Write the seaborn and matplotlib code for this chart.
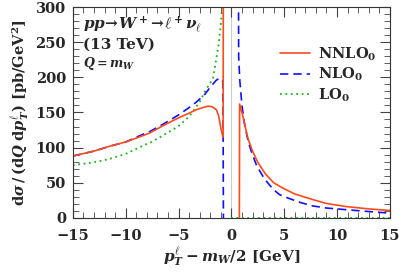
import numpy as np
import pandas as pd
import matplotlib
matplotlib.use("Agg")
import matplotlib.pyplot as plt
from matplotlib.ticker import MultipleLocator
from matplotlib.lines import Line2D
import seaborn as sns

# NNLO_0, left branch (runs off the top at the spike)
nnlo_l_x = [-15, -13, -11.5, -10, -8.2, -7.7, -6.5, -5.05, -4, -3.3, -2.7, -2.2, -1.8, -1.42, -1.2, -1.0, -0.85, -0.78, -0.76]
nnlo_l_y = [88, 95, 102, 108, 118, 121, 131, 142, 149, 154, 157, 159, 158, 154, 145, 128, 118, 115, 400]
# NNLO_0, right branch (comes up from below the axis)
nnlo_r_x = [0.74, 0.78, 1.0, 1.57, 2.0, 2.5, 3.2, 4.0, 4.57, 5.04, 6.0, 7.7, 9.0, 10.9, 13.0, 15.0]
nnlo_r_y = [-100, 162, 150, 113, 95, 79, 63, 50, 45, 41, 34, 26, 20.5, 16, 12.8, 10.5]

nlo_l_x = [-15, -13, -11.5, -10, -8.2, -7.7, -6.5, -5.05, -4, -3.3, -2.5, -2.0, -1.42, -1.1, -0.9, -0.8, -0.73]
nlo_l_y = [88, 95, 102, 108, 120, 123, 133, 146, 157, 165, 176, 186, 196, 199, 196, 194, -100]
nlo_r_x = [0.66, 0.69, 0.8, 1.0, 1.26, 1.6, 1.9, 2.4, 3.15, 4.0, 4.57, 5.04, 6.5, 7.7, 9.0, 10.9, 13.0, 15.0]
nlo_r_y = [400, 229, 195, 160, 132, 108, 94, 74, 55, 40, 33, 30, 22, 17, 14, 11.6, 9, 6.8]

lo_l_x = [-15, -13, -11.5, -10, -8.2, -7.7, -6.5, -5.05, -4, -3.0, -2.5, -2.0, -1.74, -1.42, -1.2, -1.0, -0.9, -0.85]
lo_l_y = [75, 79, 84, 91, 104, 107, 117, 130, 144, 165, 180, 192, 198, 227, 248, 275, 295, 310]
lo_r_x = [0.0, 15.0]
lo_r_y = [0.0, 0.0]

c_nnlo = "#ff4a1c"
c_nlo = "#1010ff"
c_lo = "#18b418"

sns.set_style("ticks")
plt.rcParams["font.family"] = ["DejaVu Serif"]
plt.rcParams["font.weight"] = "bold"
plt.rcParams["axes.labelweight"] = "bold"
plt.rcParams["mathtext.fontset"] = "custom"
plt.rcParams["mathtext.rm"] = "DejaVu Serif:bold"
plt.rcParams["mathtext.bf"] = "DejaVu Serif:bold"
plt.rcParams["mathtext.it"] = "DejaVu Serif:italic:bold"
plt.rcParams["mathtext.sf"] = "DejaVu Serif:bold"

fig, ax = plt.subplots(figsize=(4.07, 2.72), dpi=100)
fig.subplots_adjust(left=0.179, right=0.958, top=0.974, bottom=0.199)

ax.axvline(0, color="#cccccc", lw=0.8, zorder=0)

def branch(xs, ys, color, ls, lw):
    df = pd.DataFrame({"x": xs, "y": ys})
    sns.lineplot(data=df, x="x", y="y", ax=ax, color=color, linestyle=ls,
                 lw=lw, sort=False, estimator=None, legend=False)

branch(lo_l_x, lo_l_y, c_lo, (0, (1, 2)), 1.3)
branch(lo_r_x, lo_r_y, c_lo, (0, (1, 2)), 1.3)
branch(nlo_l_x, nlo_l_y, c_nlo, (0, (5, 3)), 1.2)
branch(nlo_r_x, nlo_r_y, c_nlo, (0, (5, 3)), 1.2)
branch(nnlo_l_x, nnlo_l_y, c_nnlo, "-", 1.2)
branch(nnlo_r_x, nnlo_r_y, c_nnlo, "-", 1.2)

ax.set_xlim(-15, 15)
ax.set_ylim(0, 300)
ax.xaxis.set_major_locator(MultipleLocator(5))
ax.xaxis.set_minor_locator(MultipleLocator(1))
ax.yaxis.set_major_locator(MultipleLocator(50))
ax.yaxis.set_minor_locator(MultipleLocator(10))
ax.tick_params(which="both", direction="in", top=True, right=True, color="#444444")
ax.tick_params(which="major", length=7, width=0.8, labelsize=10.5)
ax.tick_params(axis="x", which="major", pad=8)
ax.tick_params(axis="y", which="major", pad=5)
ax.tick_params(which="minor", length=4, width=0.6)
for s in ax.spines.values():
    s.set_linewidth(0.8)
    s.set_color("#333333")

ax.set_xlabel(r"$p_T^{\ell} - m_W/2$ [GeV]", fontsize=11, labelpad=2)
ax.set_ylabel(r"$\mathrm{d}\sigma\,/\,(\mathrm{d}Q\;\mathrm{d}p_T^{\ell})$ [pb/GeV$^2$]", fontsize=10.5, labelpad=3)

ax.text(0.032, 0.895, r"$pp\!\rightarrow\! W^+\!\rightarrow\! \ell^+\nu_\ell$", transform=ax.transAxes, fontsize=11)
ax.text(0.032, 0.805, "(13 TeV)", transform=ax.transAxes, fontsize=11)
ax.text(0.032, 0.715, r"$Q = m_W$", transform=ax.transAxes, fontsize=9)

handles = [
    Line2D([], [], color=c_nnlo, lw=1.2, ls="-"),
    Line2D([], [], color=c_nlo, lw=1.2, ls=(0, (5, 3))),
    Line2D([], [], color=c_lo, lw=1.3, ls=(0, (1, 2))),
]
ax.legend(handles, [r"NNLO$_0$", r"NLO$_0$", r"LO$_0$"], loc="upper right",
          bbox_to_anchor=(1.0, 0.88), frameon=False, fontsize=10.5,
          handlelength=2.0, handletextpad=0.6, labelspacing=0.2)

fig.savefig("out.png", dpi=100)
